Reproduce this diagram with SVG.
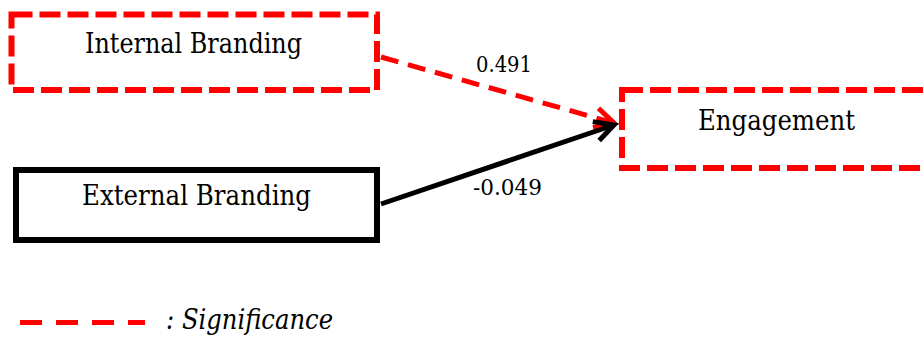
<svg xmlns="http://www.w3.org/2000/svg" width="923" height="341" viewBox="0 0 923 341">
  <style>
    text { font-family: 'DejaVu Serif', 'Liberation Serif', serif; fill: #000; }
    .node-text { font-size: 27px; text-anchor: middle; }
    .edge-text { font-size: 22px; }
    .sig { fill: #fff; stroke: #ff0000; stroke-width: 6; stroke-dasharray: 21 7; }
    .plain { fill: #fff; stroke: #000; stroke-width: 6; }
  </style>
  <defs>
    <marker id="arrRed" markerUnits="userSpaceOnUse" markerWidth="30" markerHeight="30" viewBox="-25 -15 30 30" refX="0" refY="0" orient="auto">
      <path d="M -19 -10 L 0 0 L -19 10" fill="none" stroke="#ff0000" stroke-width="5"/>
    </marker>
    <marker id="arrBlack" markerUnits="userSpaceOnUse" markerWidth="30" markerHeight="30" viewBox="-25 -15 30 30" refX="0" refY="0" orient="auto">
      <path d="M -19 -10 L 0 0 L -19 10" fill="none" stroke="#000" stroke-width="5"/>
    </marker>
  </defs>
  <rect width="923" height="341" fill="#fff"/>

  <g id="internal-branding">
    <rect class="sig" x="11.5" y="14.5" width="365.5" height="75.5"/>
    <text class="node-text" x="193.5" y="53" textLength="217" lengthAdjust="spacingAndGlyphs">Internal Branding</text>
  </g>

  <g id="external-branding">
    <rect class="plain" x="16" y="170" width="361" height="70"/>
    <text class="node-text" x="196.5" y="205" textLength="229" lengthAdjust="spacingAndGlyphs">External Branding</text>
  </g>

  <g id="engagement">
    <rect class="sig" x="622" y="90" width="320" height="78"/>
    <text class="node-text" x="776.5" y="130" textLength="157" lengthAdjust="spacingAndGlyphs">Engagement</text>
  </g>

  <g id="connectors">
    <line x1="381" y1="57" x2="614" y2="123" stroke="#ff0000" stroke-width="5" stroke-dasharray="18 10" marker-end="url(#arrRed)"/>
    <line x1="381" y1="204" x2="614" y2="125" stroke="#000" stroke-width="5" marker-end="url(#arrBlack)"/>
    <text class="edge-text" x="476" y="72" textLength="56" lengthAdjust="spacingAndGlyphs">0.491</text>
    <text class="edge-text" x="473" y="195" textLength="69" lengthAdjust="spacingAndGlyphs">-0.049</text>
  </g>

  <g id="legend">
    <line x1="20" y1="322.5" x2="145" y2="322.5" stroke="#ff0000" stroke-width="5" stroke-dasharray="22 14"/>
    <text x="166" y="329" font-size="27" font-style="italic" textLength="167" lengthAdjust="spacingAndGlyphs">: Significance</text>
  </g>
</svg>
